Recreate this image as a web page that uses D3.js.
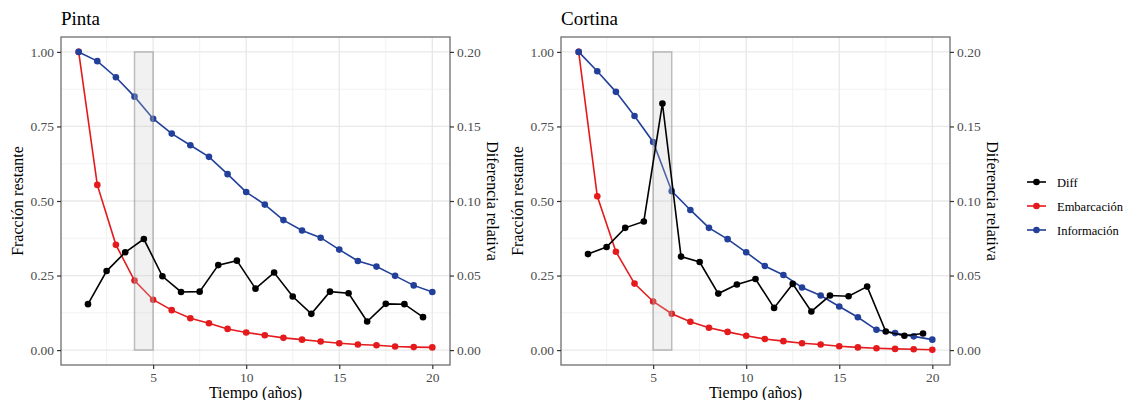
<!DOCTYPE html>
<html>
<head>
<meta charset="utf-8">
<script src="https://cdn.jsdelivr.net/npm/d3@7"></script>
<style>
  body { margin: 0; background: #fff; }
  text { font-family: "Liberation Serif", "Times New Roman", serif; }
</style>
</head>
<body>
<div id="chart"></div>
<script>
// years for the two fraction series, and half-years for the diff series
const years = d3.range(1, 21);
const diffYears = d3.range(1.5, 20, 1);

// Pinta
const pintaInfo = [1.00, 0.969, 0.915, 0.850, 0.776, 0.726, 0.687, 0.648, 0.590, 0.530,
  0.488, 0.436, 0.401, 0.377, 0.337, 0.299, 0.280, 0.249, 0.217, 0.195];
const pintaEmb = [1.00, 0.554, 0.353, 0.233, 0.169, 0.134, 0.107, 0.090, 0.071, 0.059,
  0.050, 0.041, 0.035, 0.029, 0.023, 0.019, 0.016, 0.012, 0.010, 0.009];
const pintaDiff = [0.0308, 0.053, 0.0656, 0.0745, 0.0495, 0.039, 0.0392, 0.057, 0.060, 0.0412,
  0.052, 0.0359, 0.0243, 0.0392, 0.0381, 0.0192, 0.031, 0.0308, 0.0221];
const pintaBand = [4, 5];

// Cortina
const cortinaInfo = [1.00, 0.935, 0.866, 0.785, 0.698, 0.533, 0.470, 0.410, 0.372, 0.328,
  0.282, 0.252, 0.210, 0.183, 0.146, 0.110, 0.068, 0.057, 0.046, 0.035];
const cortinaEmb = [1.00, 0.516, 0.330, 0.223, 0.163, 0.122, 0.095, 0.075, 0.061, 0.048,
  0.037, 0.030, 0.023, 0.019, 0.013, 0.009, 0.006, 0.004, 0.003, 0.001];
const cortinaDiff = [0.0644, 0.0691, 0.082, 0.0863, 0.1654, 0.0627, 0.0591, 0.0379, 0.044, 0.0477,
  0.0283, 0.0444, 0.0259, 0.0366, 0.0361, 0.0426, 0.0125, 0.0096, 0.0111];
const cortinaBand = [5, 6];

const xTicks = [5, 10, 15, 20];
const yTicks = [0, 0.25, 0.5, 0.75, 1];
const y2Ticks = [0, 0.05, 0.1, 0.15, 0.2];
const legendLabels = ["Diff", "Embarcación", "Información"];

const colDiff = "#000000", colEmb = "#e41a1c", colInfo = "#22409a";

const width = 1131, height = 400;
const svg = d3.select("#chart").append("svg").attr("width", width).attr("height", height);

const panels = [
  { title: "Pinta", ox: 0, info: pintaInfo, emb: pintaEmb, diff: pintaDiff, band: pintaBand },
  { title: "Cortina", ox: 500, info: cortinaInfo, emb: cortinaEmb, diff: cortinaDiff, band: cortinaBand }
];

const pw = 389, ph = 328, panelTop = 37, panelLeft = 61;

panels.forEach(p => {
  const g = svg.append("g").attr("transform", `translate(${p.ox + panelLeft},${panelTop})`);

  const x = d3.scaleLinear().domain([0.05, 20.95]).range([0, pw]);
  const y = d3.scaleLinear().domain([-0.05, 1.05]).range([ph, 0]);
  const y2 = d3.scaleLinear().domain([-0.01, 0.21]).range([ph, 0]);

  // grid
  const minorX = [2.5, 7.5, 12.5, 17.5], minorY = [0.125, 0.375, 0.625, 0.875];
  g.selectAll(".gxm").data(minorX).enter().append("line")
    .attr("x1", d => x(d)).attr("x2", d => x(d)).attr("y1", 0).attr("y2", ph)
    .attr("stroke", "#f2f2f2").attr("stroke-width", 1);
  g.selectAll(".gym").data(minorY).enter().append("line")
    .attr("y1", d => y(d)).attr("y2", d => y(d)).attr("x1", 0).attr("x2", pw)
    .attr("stroke", "#f2f2f2").attr("stroke-width", 1);
  g.selectAll(".gx").data(xTicks).enter().append("line")
    .attr("x1", d => x(d)).attr("x2", d => x(d)).attr("y1", 0).attr("y2", ph)
    .attr("stroke", "#e8e8e8").attr("stroke-width", 1.3);
  g.selectAll(".gy").data(yTicks).enter().append("line")
    .attr("y1", d => y(d)).attr("y2", d => y(d)).attr("x1", 0).attr("x2", pw)
    .attr("stroke", "#e8e8e8").attr("stroke-width", 1.3);

  const line = d3.line().x(d => x(d[0])).y(d => y(d[1]));
  const line2 = d3.line().x(d => x(d[0])).y(d => y2(d[1]));

  const drawSeries = (xs, vals, col, ln, ys) => {
    const pts = xs.map((v, i) => [v, vals[i]]);
    g.append("path").datum(pts).attr("d", ln)
      .attr("fill", "none").attr("stroke", col).attr("stroke-width", 1.6);
    g.selectAll(null).data(pts).enter().append("circle")
      .attr("cx", d => x(d[0])).attr("cy", d => ys(d[1])).attr("r", 3.3)
      .attr("fill", col);
  };

  drawSeries(years, p.emb, colEmb, line, y);
  drawSeries(years, p.info, colInfo, line, y);

  // highlighted band
  g.append("rect")
    .attr("x", x(p.band[0])).attr("width", x(p.band[1]) - x(p.band[0]))
    .attr("y", y(1)).attr("height", y(0) - y(1))
    .attr("fill", "rgba(200,200,200,0.25)").attr("stroke", "rgba(150,150,150,0.6)").attr("stroke-width", 1.5);

  drawSeries(diffYears, p.diff, colDiff, line2, y2);

  // border
  g.append("rect").attr("width", pw).attr("height", ph)
    .attr("fill", "none").attr("stroke", "#6e6e6e").attr("stroke-width", 1.3);

  // axes
  const styleAxis = sel => {
    sel.select(".domain").remove();
    sel.selectAll(".tick line").attr("stroke", "#333").attr("stroke-width", 1.2);
    sel.selectAll(".tick text").attr("fill", "#4d4d4d")
      .style("font-family", '"Liberation Serif", serif').style("font-size", "13.5px");
  };
  g.append("g").attr("transform", `translate(0,${ph})`)
    .call(d3.axisBottom(x).tickValues(xTicks).tickSize(4).tickPadding(3).tickFormat(d3.format("d")))
    .call(styleAxis);
  g.append("g")
    .call(d3.axisLeft(y).tickValues(yTicks).tickSize(4).tickPadding(3).tickFormat(d3.format(".2f")))
    .call(styleAxis);
  g.append("g").attr("transform", `translate(${pw},0)`)
    .call(d3.axisRight(y2).tickValues(y2Ticks).tickSize(4).tickPadding(3).tickFormat(d3.format(".2f")))
    .call(styleAxis);

  // titles
  g.append("text").attr("x", 0).attr("y", -12).text(p.title)
    .attr("font-size", 19).attr("fill", "#000");
  g.append("text").attr("x", pw / 2).attr("y", ph + 33).attr("text-anchor", "middle")
    .attr("font-size", 16).text("Tiempo (años)");
  g.append("text").attr("transform", `translate(${-38},${ph / 2}) rotate(-90)`)
    .attr("text-anchor", "middle").attr("font-size", 16).text("Fracción restante");
  g.append("text").attr("transform", `translate(${pw + 37},${ph / 2}) rotate(90)`)
    .attr("text-anchor", "middle").attr("font-size", 16).text("Diferencia relativa");
});

// legend
const legCols = [colDiff, colEmb, colInfo];
const leg = svg.append("g").attr("transform", "translate(1027,182)");
legendLabels.forEach((lab, i) => {
  const r = leg.append("g").attr("transform", `translate(0,${i * 24})`);
  r.append("line").attr("x1", 0).attr("x2", 19).attr("stroke", legCols[i]).attr("stroke-width", 1.6);
  r.append("circle").attr("cx", 9.5).attr("r", 3.3).attr("fill", legCols[i]);
  r.append("text").attr("x", 30).attr("y", 4.5).attr("font-size", 12.5).text(lab);
});
</script>
</body>
</html>
